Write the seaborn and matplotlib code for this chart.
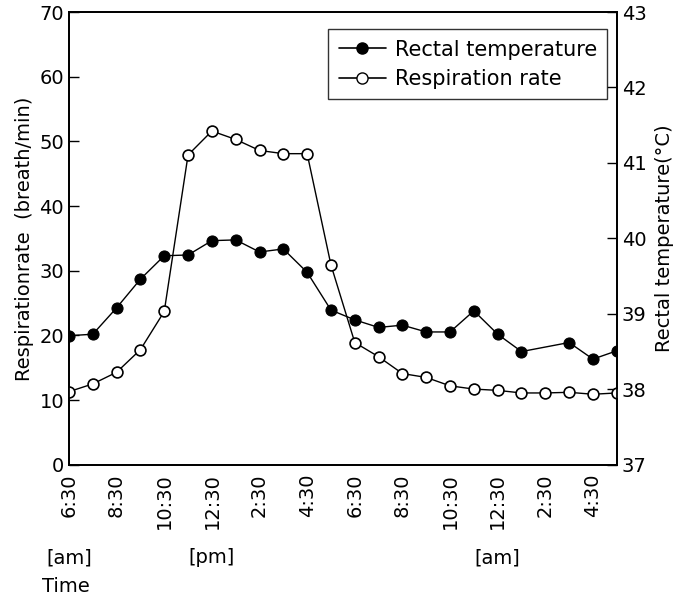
import numpy as np
import pandas as pd
import matplotlib
matplotlib.use("Agg")
import matplotlib.pyplot as plt
from matplotlib.lines import Line2D
import seaborn as sns

# hourly readings from 6:30 am to 5:30 am next day
hours = list(range(24))
resp_rate = [11.3, 12.5, 14.3, 17.8, 23.7, 47.9, 51.6, 50.3, 48.6, 48.1, 48.1, 30.9,
             18.9, 16.7, 14.1, 13.5, 12.2, 11.7, 11.5, 11.1, 11.1, 11.2, 10.9, 11.1]
rectal_temp = [38.71, 38.73, 39.08, 39.46, 39.77, 39.78, 39.97, 39.98, 39.82, 39.86, 39.55, 39.05,
               38.92, 38.82, 38.85, 38.76, 38.76, 39.04, 38.73, 38.50, np.nan, 38.62, 38.40, 38.51]
tick_labels = ["6:30", "8:30", "10:30", "12:30", "2:30", "4:30",
               "6:30", "8:30", "10:30", "12:30", "2:30", "4:30"]
period_labels = ["[am]", "[pm]", "[am]"]
period_hours = [0, 6, 18]

df = pd.DataFrame({"hour": hours, "resp": resp_rate, "temp": rectal_temp})
temp_df = df.dropna(subset=["temp"])

sns.set_style("white")
plt.rcParams["font.family"] = ["DejaVu Sans"]
plt.rcParams["text.color"] = "black"
plt.rcParams["axes.labelcolor"] = "black"

fig = plt.figure(figsize=(6.83, 6.02), dpi=100)
ax = fig.add_axes([0.101, 0.228, 0.802, 0.752])
ax2 = ax.twinx()

sns.lineplot(data=df, x="hour", y="resp", ax=ax, color="black", linewidth=1,
             marker="o", markersize=7.8, markerfacecolor="white",
             markeredgecolor="black", markeredgewidth=1.2)
sns.lineplot(data=temp_df, x="hour", y="temp", ax=ax2, color="black", linewidth=1,
             marker="o", markersize=8, markerfacecolor="black",
             markeredgecolor="black")

ax.set_xlim(0, 23)
ax.set_ylim(0, 70)
ax2.set_ylim(37, 43)
ax.set_yticks(range(0, 71, 10))
ax2.set_yticks(range(37, 44))
ax.set_xticks(range(0, 23, 2))
ax.set_xticks(range(0, 24), minor=True)
ax.set_xticklabels(tick_labels, rotation=90)

for a in (ax, ax2):
    for s in a.spines.values():
        s.set_color("black")
        s.set_linewidth(1.3)
    a.tick_params(direction="in", length=7, width=1, labelsize=14, colors="black")
ax.tick_params(axis="x", which="minor", direction="in", length=7, width=1)
ax.tick_params(axis="x", pad=6)

ax.set_xlabel("")
ax.set_ylabel("Respirationrate  (breath/min)", fontsize=14, labelpad=4)
ax2.set_ylabel("Rectal temperature(°C)", fontsize=14, labelpad=6)

for lab, h in zip(period_labels, period_hours):
    ax.text(h, -0.205, lab, transform=ax.get_xaxis_transform(), ha="center",
            va="center", fontsize=14)
ax.text(-0.05, -0.27, "Time", transform=ax.transAxes, ha="left", va="center",
        fontsize=14)

handles = [
    Line2D([], [], color="black", lw=1.2, marker="o", markersize=8,
           markerfacecolor="black"),
    Line2D([], [], color="black", lw=1.2, marker="o", markersize=8,
           markerfacecolor="white"),
]
leg = ax.legend(handles, ["Rectal temperature", "Respiration rate"],
                loc="upper right", bbox_to_anchor=(0.983, 0.962), fontsize=15,
                frameon=True, fancybox=False, handlelength=2.3,
                handletextpad=0.4, borderpad=0.5, labelspacing=0.45,
                borderaxespad=0)
leg.get_frame().set_edgecolor("black")
leg.get_frame().set_linewidth(1)
leg.set_zorder(5)
ax.set_zorder(ax2.get_zorder() + 1)
ax.patch.set_visible(False)

fig.savefig("out.png", dpi=100)
